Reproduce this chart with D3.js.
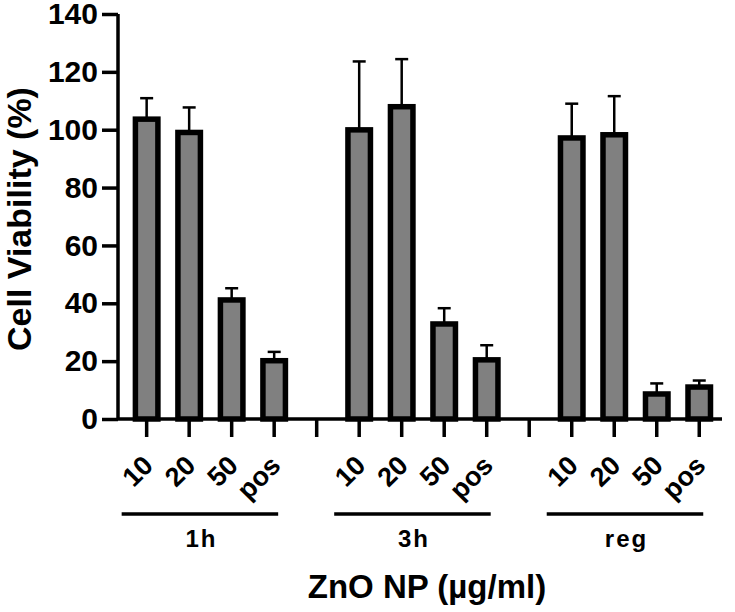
<!DOCTYPE html>
<html lang="en">
<head>
  <meta charset="UTF-8" />
  <title>ZnO NP cell viability</title>
  <script src="https://d3js.org/d3.v7.min.js"></script>
  <style>
    body {
      margin: 0;
      background: #fff;
    }
    svg text {
      font-family: "Liberation Sans", Arial, sans-serif;
      font-weight: bold;
      fill: #000;
    }
  </style>
</head>
<body>
  <div id="chart"></div>

  <script>
    // data
    const groups = ["1h", "3h", "reg"];
    const doses = ["10", "20", "50", "pos"];
    const means = {
      "1h": [104.6, 100.0, 42.1, 21.1],
      "3h": [100.9, 108.9, 33.8, 21.4],
      "reg": [98.1, 99.2, 9.6, 12.0]
    };
    const errors = {
      "1h": [6.3, 7.7, 3.1, 2.1],
      "3h": [22.7, 15.5, 4.5, 4.1],
      "reg": [10.9, 12.4, 2.7, 1.3]
    };
    const yTicks = [0, 20, 40, 60, 80, 100, 120, 140];

    const width = 735;
    const height = 612;

    const svg = d3.select("#chart")
      .append("svg")
      .attr("width", width)
      .attr("height", height);

    // slots: 4 bars, a gap, 4 bars, a gap, 4 bars
    const slots = [];
    groups.forEach((g, gi) => {
      doses.forEach(d => slots.push(g + "|" + d));
      if (gi < groups.length - 1) slots.push("gap" + gi);
    });

    const x = d3.scaleBand()
      .domain(slots)
      .range([125.4, 720.5])
      .padding(0);

    const y = d3.scaleLinear()
      .domain([0, 140])
      .range([419, 14]);

    const rows = [];
    groups.forEach(g => {
      doses.forEach((d, i) => {
        rows.push({ group: g, dose: d, mean: means[g][i], err: errors[g][i] });
      });
    });

    const cx = d => x(d.group + "|" + d.dose) + x.bandwidth() / 2;
    const barW = 28;
    const sw = 5.5;

    // error bars (upper only)
    const eb = svg.append("g");
    eb.selectAll("line.stem")
      .data(rows)
      .enter()
      .append("line")
      .attr("x1", cx)
      .attr("x2", cx)
      .attr("y1", d => y(d.mean) + 3)
      .attr("y2", d => y(d.mean + d.err))
      .attr("stroke", "#000")
      .attr("stroke-width", 2.5);
    eb.selectAll("line.cap")
      .data(rows)
      .enter()
      .append("line")
      .attr("x1", d => cx(d) - 6.5)
      .attr("x2", d => cx(d) + 6.5)
      .attr("y1", d => y(d.mean + d.err))
      .attr("y2", d => y(d.mean + d.err))
      .attr("stroke", "#000")
      .attr("stroke-width", 2.5);

    // bars, border drawn inside the value
    svg.append("g")
      .selectAll("rect")
      .data(rows)
      .enter()
      .append("rect")
      .attr("x", d => cx(d) - barW / 2 + sw / 2)
      .attr("y", d => y(d.mean) + sw / 2)
      .attr("width", barW - sw)
      .attr("height", d => y(0) - y(d.mean) - sw / 2)
      .attr("fill", "#808080")
      .attr("stroke", "#000")
      .attr("stroke-width", sw);

    // y axis
    const yAxis = svg.append("g")
      .attr("transform", "translate(118,0)")
      .call(d3.axisLeft(y).tickValues(yTicks).tickSize(16).tickPadding(4));
    yAxis.select(".domain").attr("d", `M0,${y(140)}V${y(0)}`).attr("stroke-width", 3.5);
    yAxis.selectAll(".tick line").attr("stroke-width", 3.5);
    yAxis.selectAll(".tick text").style("font-size", "30px");

    // x axis
    const xAxis = svg.append("g")
      .attr("transform", `translate(0,${y(0)})`)
      .call(d3.axisBottom(x).tickSize(18).tickFormat(""));
    xAxis.select(".domain").attr("d", "M118,0H722").attr("stroke-width", 3.5);
    xAxis.selectAll(".tick line").attr("stroke-width", 3.5);

    // rotated dose labels
    svg.append("g")
      .selectAll("text")
      .data(rows)
      .enter()
      .append("text")
      .attr("transform", d => `translate(${cx(d) + 8},${y(0) + 48}) rotate(-45)`)
      .attr("text-anchor", "end")
      .style("font-size", "27px")
      .text(d => d.dose);

    // group underline and labels
    const gl = svg.append("g")
      .selectAll("g")
      .data(groups)
      .enter()
      .append("g");
    gl.append("line")
      .attr("x1", g => x(g + "|10") + x.bandwidth() / 2 - 25)
      .attr("x2", g => x(g + "|pos") + x.bandwidth() / 2 + 4)
      .attr("y1", 514)
      .attr("y2", 514)
      .attr("stroke", "#000")
      .attr("stroke-width", 3.5);
    gl.append("text")
      .attr("x", g => (x(g + "|10") + x(g + "|pos") + x.bandwidth()) / 2 - 9)
      .attr("y", 547)
      .attr("text-anchor", "middle")
      .style("font-size", "24px")
      .style("letter-spacing", "2px")
      .text(g => g);

    // axis titles
    svg.append("text")
      .attr("transform", "translate(31,219) rotate(-90)")
      .attr("text-anchor", "middle")
      .style("font-size", "34px")
      .text("Cell Viability (%)");

    svg.append("text")
      .attr("x", 427)
      .attr("y", 598)
      .attr("text-anchor", "middle")
      .style("font-size", "33px")
      .text("ZnO NP (µg/ml)");
  </script>
</body>
</html>
